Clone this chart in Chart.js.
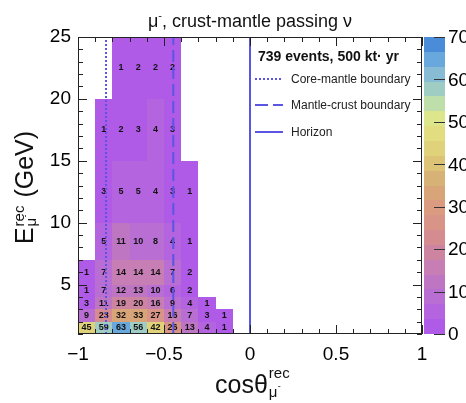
<!DOCTYPE html>
<html>
<head>
<meta charset="utf-8">
<script src="https://cdn.jsdelivr.net/npm/chart.js@4.4.0/dist/chart.umd.min.js"></script>
<style>
  html, body { margin: 0; padding: 0; background: #fff; }
  #wrap { width: 466px; height: 403px; }
</style>
</head>
<body>
<div id="wrap"><canvas id="histo" width="466" height="403"></canvas></div>
<script>
// bin edges
const cosEdges = [-1.0, -0.9, -0.8, -0.7, -0.6, -0.5, -0.4, -0.3, -0.2, -0.1, 0.0];
const energyEdges = [1, 2, 3, 4, 5, 7, 10, 15, 20, 25];

// event counts per energy bin, one value per cos bin starting at -1
const countsE1to2 = [45, 59, 63, 56, 42, 26, 13, 4, 1];
const countsE2to3 = [9, 23, 32, 33, 27, 16, 7, 3, 1];
const countsE3to4 = [3, 11, 19, 20, 16, 9, 4, 1];
const countsE4to5 = [1, 7, 12, 13, 10, 6, 2];
const countsE5to7 = [1, 7, 14, 14, 14, 7, 2];
const countsE7to10 = [0, 5, 11, 10, 8, 4, 1];
const countsE10to15 = [0, 3, 5, 5, 4, 3, 1];
const countsE15to20 = [0, 1, 2, 3, 4, 3];
const countsE20to25 = [0, 0, 1, 2, 2, 2];

const xTicks = [-1, -0.5, 0, 0.5, 1];
const yTicks = [5, 10, 15, 20, 25];
const zTicks = [0, 10, 20, 30, 40, 50, 60, 70];

const coreMantleCos = -0.837;
const mantleCrustCos = -0.446;
const horizonCos = 0;

const zMax = 70;
const nBands = 20;

// colour of each contour band, bottom (0) to top (70)
const palette = [
  [176, 90, 232], [180, 100, 222], [184, 110, 210], [190, 118, 195], [198, 126, 180],
  [205, 132, 160], [212, 140, 145], [216, 148, 135], [218, 155, 128], [216, 165, 120],
  [214, 178, 118], [220, 195, 118], [224, 210, 122], [226, 222, 128], [222, 230, 140],
  [190, 222, 170], [160, 205, 195], [135, 188, 212], [105, 168, 220], [74, 140, 216]
];
const lineColor = '#5a55e2';

function colorFor(v) {
  let i = Math.floor(v / (zMax / nBands));
  i = Math.max(0, Math.min(nBands - 1, i));
  const c = palette[i];
  return `rgb(${c[0]},${c[1]},${c[2]})`;
}

// build cells
const rows = [countsE1to2, countsE2to3, countsE3to4, countsE4to5, countsE5to7,
              countsE7to10, countsE10to15, countsE15to20, countsE20to25];
const cells = [];
rows.forEach((row, r) => {
  row.forEach((v, c) => {
    if (v <= 0) return;
    cells.push({
      x0: cosEdges[c], x1: cosEdges[c + 1],
      y0: energyEdges[r], y1: energyEdges[r + 1],
      x: (cosEdges[c] + cosEdges[c + 1]) / 2,
      y: (energyEdges[r] + energyEdges[r + 1]) / 2,
      v: v
    });
  });
});

const FONT = "'Liberation Sans', Arial, Helvetica, sans-serif";

const histPlugin = {
  id: 'histPlugin',
  beforeDatasetsDraw(chart) {
    const { ctx, chartArea: a, scales: { x, y } } = chart;
    ctx.save();
    ctx.beginPath();
    ctx.rect(a.left, a.top, a.width, a.height);
    ctx.clip();
    chart.data.datasets[0].data.forEach(c => {
      const px0 = Math.round(x.getPixelForValue(c.x0));
      const px1 = Math.round(x.getPixelForValue(c.x1));
      const py0 = Math.round(y.getPixelForValue(c.y0));
      const py1 = Math.round(y.getPixelForValue(c.y1));
      ctx.fillStyle = colorFor(c.v);
      ctx.fillRect(px0, py1, px1 - px0, py0 - py1);
    });
    // bin contents
    ctx.fillStyle = '#111';
    ctx.font = 'bold 9px ' + FONT;
    ctx.textAlign = 'center';
    ctx.textBaseline = 'middle';
    chart.data.datasets[0].data.forEach(c => {
      ctx.fillText(String(c.v), x.getPixelForValue(c.x), y.getPixelForValue(c.y));
    });
    ctx.restore();
  },
  afterDraw(chart) {
    const { ctx, chartArea: a, scales: { x, y, z } } = chart;
    ctx.save();

    // boundary lines
    ctx.strokeStyle = lineColor;
    ctx.lineWidth = 2;
    [[coreMantleCos, [2, 2]], [mantleCrustCos, [12, 5]], [horizonCos, []]].forEach(([v, dash]) => {
      const px = x.getPixelForValue(v);
      ctx.setLineDash(dash);
      ctx.beginPath();
      ctx.moveTo(px, a.bottom);
      ctx.lineTo(px, a.top);
      ctx.stroke();
    });
    ctx.setLineDash([]);

    // inward ticks on the frame
    ctx.strokeStyle = '#222';
    ctx.lineWidth = 1;
    ctx.beginPath();
    for (let i = 0; i <= 20; i++) {
      const v = -1 + i * 0.1;
      const len = (i % 5 === 0) ? 9 : 5;
      const px = Math.round(x.getPixelForValue(v)) + 0.5;
      ctx.moveTo(px, a.bottom); ctx.lineTo(px, a.bottom - len);
      ctx.moveTo(px, a.top); ctx.lineTo(px, a.top + len);
    }
    for (let v = 1; v <= 25; v++) {
      const len = (v % 5 === 0) ? 9 : 5;
      const py = Math.round(y.getPixelForValue(v)) + 0.5;
      ctx.moveTo(a.left, py); ctx.lineTo(a.left + len, py);
      ctx.moveTo(a.right, py); ctx.lineTo(a.right - len, py);
    }
    ctx.stroke();

    // frame
    ctx.strokeStyle = '#222';
    ctx.strokeRect(Math.round(a.left) + 0.5, Math.round(a.top) + 0.5,
                   Math.round(a.width) - 1, Math.round(a.height) - 1);

    // colour bar
    const cbL = a.right + 2, cbR = a.right + 23;
    const step = zMax / nBands;
    for (let i = 0; i < nBands; i++) {
      const c = palette[i];
      const yb = Math.round(z.getPixelForValue(i * step));
      const yt = Math.round(z.getPixelForValue((i + 1) * step));
      ctx.fillStyle = `rgb(${c[0]},${c[1]},${c[2]})`;
      ctx.fillRect(cbL, yt, cbR - cbL, yb - yt);
    }
    ctx.strokeStyle = '#333';
    ctx.beginPath();
    zTicks.forEach(v => {
      const py = Math.round(z.getPixelForValue(v)) + 0.5;
      ctx.moveTo(cbR, py); ctx.lineTo(cbR - 11, py);
    });
    ctx.stroke();
    ctx.fillStyle = '#000';
    ctx.font = '19px ' + FONT;
    ctx.textAlign = 'left';
    ctx.textBaseline = 'middle';
    zTicks.forEach(v => {
      ctx.fillText(String(v), cbR + 3, z.getPixelForValue(v) + 1);
    });

    // legend
    ctx.fillStyle = '#111';
    ctx.font = 'bold 14px ' + FONT;
    ctx.textBaseline = 'alphabetic';
    ctx.fillText('739 events, 500 kt\u00b7 yr', a.left + 180, 61);
    const legendItems = [['Core-mantle boundary', [2, 2], 79],
                         ['Mantle-crust boundary', [13, 5], 105],
                         ['Horizon', [], 132]];
    ctx.font = '12px ' + FONT;
    legendItems.forEach(([label, dash, ly]) => {
      ctx.strokeStyle = lineColor;
      ctx.lineWidth = 2;
      ctx.setLineDash(dash);
      ctx.beginPath();
      ctx.moveTo(a.left + 177, ly);
      ctx.lineTo(a.left + 205, ly);
      ctx.stroke();
      ctx.setLineDash([]);
      ctx.fillStyle = '#222';
      ctx.fillText(label, a.left + 213, ly + 4);
    });

    // title
    ctx.fillStyle = '#111';
    const cx = (a.left + a.right) / 2;
    ctx.font = '18px ' + FONT;
    const t1 = '\u03bc', t2 = ', crust-mantle passing \u03bd';
    const w1 = ctx.measureText(t1).width, w2 = ctx.measureText(t2).width;
    ctx.font = '11px ' + FONT;
    const wm = ctx.measureText('-').width;
    let tx = cx - (w1 + wm + w2) / 2;
    ctx.font = '18px ' + FONT;
    ctx.fillText(t1, tx, 27);
    ctx.font = '11px ' + FONT;
    ctx.fillText('-', tx + w1, 19);
    ctx.font = '18px ' + FONT;
    ctx.fillText(t2, tx + w1 + wm, 27);

    // x title
    ctx.font = '25px ' + FONT;
    const wc = ctx.measureText('cos\u03b8').width;
    ctx.fillText('cos\u03b8', 215, 393);
    ctx.font = '15px ' + FONT;
    ctx.fillText('rec', 215 + wc + 1, 378);
    ctx.fillText('\u03bc', 215 + wc + 1, 397);
    ctx.font = '9px ' + FONT;
    ctx.fillText('-', 215 + wc + 10, 389);

    // y title (rotated)
    ctx.save();
    const cy = (a.top + a.bottom) / 2 + 2;
    ctx.translate(33, cy);
    ctx.rotate(-Math.PI / 2);
    ctx.font = '25px ' + FONT;
    const wE = ctx.measureText('E').width;
    ctx.font = '15px ' + FONT;
    const wr = ctx.measureText('rec').width;
    ctx.font = '25px ' + FONT;
    const wg = ctx.measureText('(GeV)').width;
    const total = wE + 1 + wr + 8 + wg;
    let ox = -total / 2;
    ctx.fillText('E', ox, 0);
    ctx.font = '15px ' + FONT;
    ctx.fillText('rec', ox + wE + 1, -9);
    ctx.fillText('\u03bc', ox + wE + 1, 3);
    ctx.font = '9px ' + FONT;
    ctx.fillText('-', ox + wE + 10, -5);
    ctx.font = '25px ' + FONT;
    ctx.fillText('(GeV)', ox + wE + 1 + wr + 8, 0);
    ctx.restore();

    ctx.restore();
  }
};

Chart.defaults.font.family = FONT;
Chart.defaults.color = '#000';

new Chart(document.getElementById('histo'), {
  type: 'scatter',
  data: {
    datasets: [{
      label: 'events',
      data: cells,
      pointRadius: 0,
      pointHoverRadius: 0
    }]
  },
  options: {
    responsive: false,
    animation: false,
    devicePixelRatio: 1,
    layout: { padding: { top: 37, left: 0, right: 0, bottom: 0 } },
    plugins: {
      legend: { display: false },
      tooltip: { enabled: false },
      title: { display: false }
    },
    scales: {
      x: {
        type: 'linear',
        min: -1, max: 1,
        afterBuildTicks: s => { s.ticks = xTicks.map(v => ({ value: v })); },
        afterFit: s => { s.height = 69; },
        grid: { display: false, drawTicks: false },
        border: { display: false },
        ticks: {
          padding: 9,
          font: { size: 19 },
          color: '#000',
          maxRotation: 0,
          callback: v => String(v).replace('-', '\u2212')
        }
      },
      y: {
        type: 'linear',
        min: 1, max: 25,
        afterBuildTicks: s => { s.ticks = yTicks.map(v => ({ value: v })); },
        afterFit: s => { s.width = 78; },
        grid: { display: false, drawTicks: false },
        border: { display: false },
        ticks: { padding: 7, font: { size: 19 }, color: '#000' }
      },
      z: {
        type: 'linear',
        position: 'right',
        min: 0, max: zMax,
        afterFit: s => { s.width = 44; },
        grid: { display: false, drawTicks: false },
        border: { display: false },
        ticks: { display: false }
      }
    }
  },
  plugins: [histPlugin]
});
</script>
</body>
</html>
